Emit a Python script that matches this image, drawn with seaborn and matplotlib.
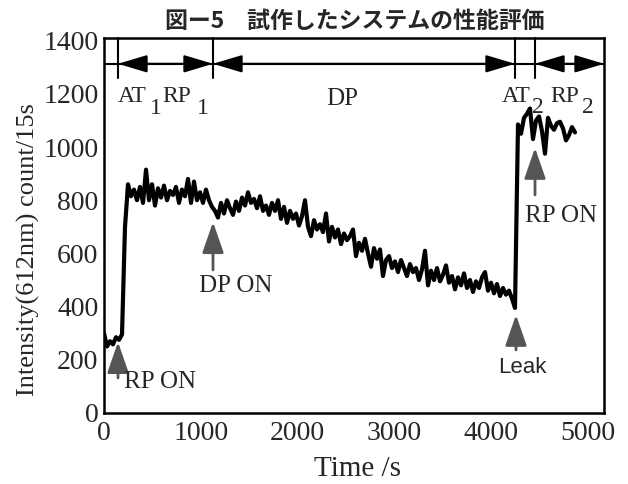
import numpy as np
import pandas as pd
import matplotlib
matplotlib.use("Agg")
import matplotlib.pyplot as plt
from matplotlib.transforms import ScaledTranslation
import seaborn as sns

# Intensity, one value every 30 s
at1_rp1 = [300, 250, 270, 258, 285, 275, 295, 700, 860,
           815, 840, 800, 850, 790, 915, 800, 860, 780, 845,
           810, 855, 800, 835, 820, 850, 790, 840, 815, 880,
           790, 870, 800, 830, 790, 840, 800, 775]
dp = [760, 735, 790, 750, 800, 770, 745, 795, 760, 810,
      780, 830, 790, 805, 770, 815, 760, 780, 745, 790,
      760, 800, 730, 775, 715, 760, 730, 750, 705, 740,
      800,
      700, 665, 725, 690, 710, 680, 750, 645, 700, 660,
      690, 635, 675, 650, 665, 690, 590, 640, 610, 655,
      600, 550, 620, 580, 615, 515, 575, 590, 545, 570,
      530, 575, 545, 515, 560, 530, 545, 500, 540, 610,
      480, 535, 500, 545, 495, 520, 555, 490, 515, 465,
      510, 480, 525, 470, 500, 455, 495, 470, 510, 530,
      460, 490, 450, 485, 440, 470, 445, 460, 430, 395]
at2_rp2 = [1085, 1050, 1110, 1125, 1145, 1030, 1100, 1115, 1060, 975,
           1110, 1080, 1065, 1090, 1095, 1070, 1025, 1045, 1075, 1055]
step = 30

intensity = at1_rp1 + dp + at2_rp2
df = pd.DataFrame({"Time": np.arange(len(intensity)) * step, "Intensity": intensity})

# phase boundaries (s)
bounds = [140, 1090, 4110, 4310]
bar_level = 1313
xticks = list(range(0, 5001, 1000))

sns.set_style("white")
plt.rcParams["font.family"] = ["Liberation Serif"]

fig = plt.figure(figsize=(6.28, 4.84), dpi=100)
ax = fig.add_axes([104 / 628, 71 / 484, 500 / 628, 375 / 484])

sns.lineplot(data=df, x="Time", y="Intensity", color="black", lw=3.0,
             estimator=None, ax=ax)

ax.set_xlim(0, 5000)
ax.set_ylim(0, 1410)
ax.set_xticks(xticks)
ax.set_yticks(range(0, 1401, 200))
ax.tick_params(axis="both", direction="in", length=8, width=1.5, labelsize=20, pad=4)
ax.tick_params(axis="x", color="#555555", pad=6)
# the scanned labels drift left a little toward the right end
for lab, v in zip(ax.get_xticklabels(), xticks):
    lab.set_transform(lab.get_transform()
                      + ScaledTranslation(-v * 0.0032 / 100, 0, fig.dpi_scale_trans))
for s in ax.spines.values():
    s.set_linewidth(1.8)
    s.set_color("black")

ax.set_xlabel("Time /s", fontsize=21)
ax.set_ylabel("Intensity(612nm) count/15s", fontsize=19)
ax.xaxis.set_label_coords(0.506, -0.115)
ax.yaxis.set_label_coords(-0.128, 0.435)

# phase bar at the top
ax.axhline(bar_level, color="black", lw=1.5)
for b in bounds:
    ax.plot([b, b], [1260, 1410], color="black", lw=1.5, clip_on=False)
arrow_kw = dict(arrowstyle="<|-|>,head_length=1.0,head_width=0.3", color="black",
                lw=1.5, shrinkA=0, shrinkB=0, mutation_scale=18)
for x0, x1 in [(bounds[0], bounds[1]), (bounds[1], bounds[2]), (bounds[3], 5000)]:
    ax.annotate("", xy=(x1, bar_level), xytext=(x0, bar_level), arrowprops=arrow_kw)

ax.text(140, 1170, "AT", fontsize=17, va="baseline")
ax.text(460, 1125, "1", fontsize=17, va="baseline")
ax.text(580, 1170, "RP", fontsize=17, va="baseline")
ax.text(930, 1125, "1", fontsize=17, va="baseline")
ax.text(2380, 1159, "DP", fontsize=18, va="baseline", ha="center")
ax.text(3980, 1170, "AT", fontsize=17, va="baseline")
ax.text(4280, 1129, "2", fontsize=17, va="baseline")
ax.text(4460, 1170, "RP", fontsize=17, va="baseline")
ax.text(4780, 1129, "2", fontsize=17, va="baseline")

# gray event arrows
gray = "#555555"
ev_kw = dict(arrowstyle="-|>,head_length=0.95,head_width=0.33", color=gray,
             lw=2, shrinkA=0, shrinkB=0, mutation_scale=20)
ax.annotate("", xy=(140, 267), xytext=(140, 132), arrowprops=ev_kw)
ax.annotate("", xy=(1090, 718), xytext=(1090, 538), arrowprops=ev_kw)
ax.annotate("", xy=(4120, 369), xytext=(4120, 237), arrowprops=ev_kw)
ax.annotate("", xy=(4310, 997), xytext=(4310, 820), arrowprops=ev_kw)

ax.text(200, 94, "RP ON", fontsize=18, va="baseline")
ax.text(1320, 455, "DP ON", fontsize=18, va="baseline", ha="center")
ax.text(4180, 150, "Leak", fontsize=16, va="baseline", ha="center",
        family="Liberation Sans")
ax.text(4570, 719, "RP ON", fontsize=18, va="baseline", ha="center")

fig.text(355 / 628, 1 - 21 / 484, "図ー5　試作したシステムの性能評価", fontsize=16.5,
         fontweight="bold", ha="center", va="center",
         family=["Noto Sans CJK JP", "DejaVu Sans"])

fig.savefig("out.png", dpi=100)
